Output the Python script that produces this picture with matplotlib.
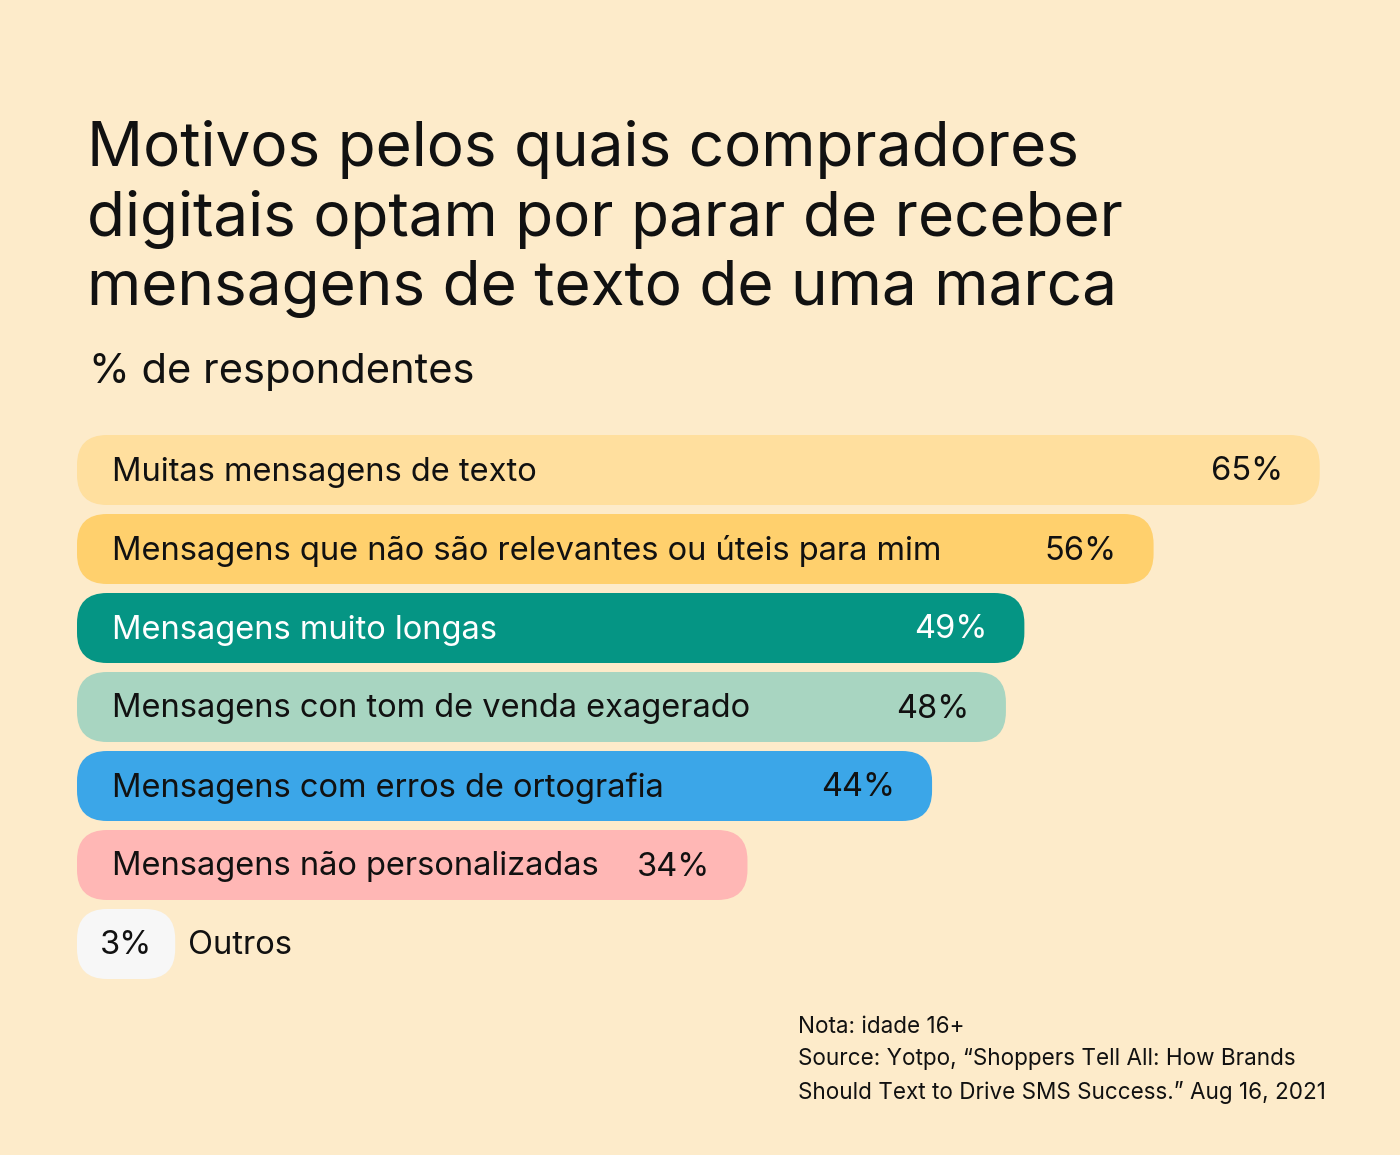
import matplotlib.pyplot as plt
from matplotlib.patches import FancyBboxPatch

plt.rcParams['font.family'] = ['Inter', 'DejaVu Sans']

# data
categories = [
    'Muitas mensagens de texto',
    'Mensagens que não são relevantes ou úteis para mim',
    'Mensagens muito longas',
    'Mensagens con tom de venda exagerado',
    'Mensagens com erros de ortografia',
    'Mensagens não personalizadas',
    'Outros',
]
values = [65, 56, 49, 48, 44, 34, 3]
bar_colors = ['#FFDF9E', '#FFD06D', '#059584', '#A8D5C1', '#3BA6E8', '#FFB7B5', '#F7F7F7']
text_colors = ['#111111', '#111111', '#FFFFFF', '#111111', '#111111', '#111111', '#111111']

bg = '#FDEBCA'
W, H = 1400, 1155
fig = plt.figure(figsize=(W / 100, H / 100), dpi=100, facecolor=bg)
ax = fig.add_axes([0, 0, 1, 1])
ax.set_facecolor(bg)
ax.axis('off')

# axis scale: 1 % = 18.46 px, bars start at -2.32 %, first row centred at y=470px, rows 79px apart
sx = 18.46
sy = 79.0
x_left = -2.32 - 77 / sx
ax.set_xlim(x_left, x_left + W / sx)
ax.set_ylim((H - 470) / sy, -470 / sy)

bar_start = -2.32
bar_h = 70 / sy
R = 30  # corner radius in px
fs = 23.5

for i, (cat, v, c, tc) in enumerate(zip(categories, values, bar_colors, text_colors)):
    patch = FancyBboxPatch((bar_start, i - bar_h / 2), v - bar_start, bar_h,
                           boxstyle=f'round,pad=0,rounding_size={R / sx}',
                           mutation_aspect=sx / sy, facecolor=c, edgecolor='none')
    ax.add_patch(patch)
    if v < 10:
        ax.annotate(f'{v}%', xy=((bar_start + v) / 2, i), xytext=(0, -2), textcoords='offset pixels',
                    ha='center', va='center', fontsize=fs, color=tc)
        ax.annotate(cat, xy=(v, i), xytext=(13, -2), textcoords='offset pixels',
                    ha='left', va='center', fontsize=fs, color='#111111')
    else:
        ax.annotate(cat, xy=(bar_start, i), xytext=(35, -2), textcoords='offset pixels',
                    ha='left', va='center', fontsize=fs, color=tc)
        ax.annotate(f'{v}%', xy=(v, i), xytext=(-37, -2), textcoords='offset pixels',
                    ha='right', va='center', fontsize=fs, color=tc)

fig.text(87 / W, 1 - 120 / H,
         'Motivos pelos quais compradores\ndigitais optam por parar de receber\nmensagens de texto de uma marca',
         ha='left', va='top', fontsize=44.7, color='#111111', linespacing=1.24)
fig.text(89 / W, 1 - 372 / H, '% de respondentes', ha='left', va='center',
         fontsize=30, color='#111111')
fig.text(798 / W, 1 - 1016 / H,
         'Nota: idade 16+\nSource: Yotpo, \u201cShoppers Tell All: How Brands\nShould Text to Drive SMS Success.\u201d Aug 16, 2021',
         ha='left', va='top', fontsize=16.2, color='#111111', linespacing=1.6)

fig.savefig('out.png', dpi=100, facecolor=bg)
